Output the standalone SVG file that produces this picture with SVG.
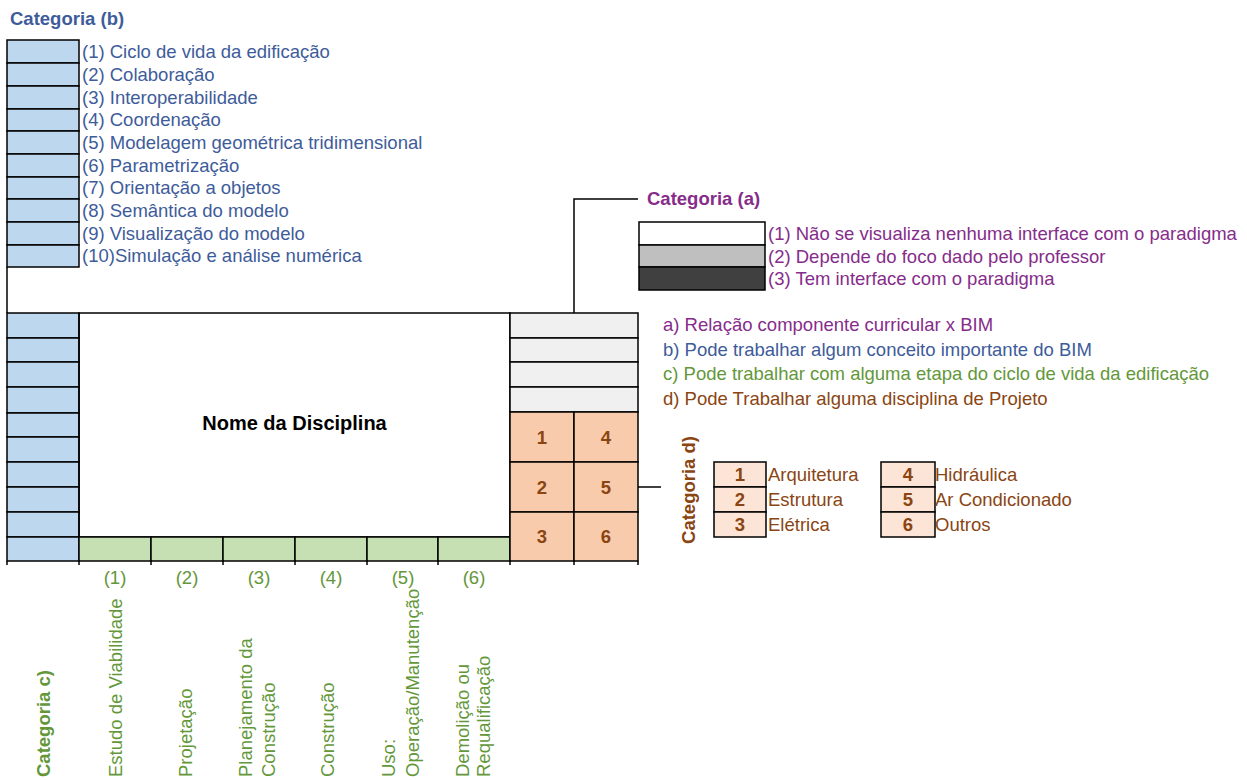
<svg xmlns="http://www.w3.org/2000/svg" width="1247" height="780" viewBox="0 0 1247 780">
<style>
text{font-family:"Liberation Sans",Arial,sans-serif;font-size:18.5px}
.b{font-weight:bold}
.ln{stroke:#000;stroke-width:1.5;fill:none}
.cb{fill:#BDD7EE;stroke:#000;stroke-width:1.5}
.cg{fill:#C6E0B4;stroke:#000;stroke-width:1.5}
.co{fill:#F8CBAD;stroke:#000;stroke-width:1.5}
.cl{fill:#FCE4D6;stroke:#000;stroke-width:1.5}
.cy{fill:#F0F0F0;stroke:#000;stroke-width:1.5}
.tb{fill:#3E5C9A}
.tg{fill:#63973A}
.to{fill:#8A4513}
.tp{fill:#862C8A}
.mid{text-anchor:middle}
</style>
<rect width="1247" height="780" fill="#fff"/>

<g id="categoria-b-legend">
<text x="10" y="25" class="b tb">Categoria (b)</text>
<rect x="7" y="40" width="72" height="23" class="cb"/>
<rect x="7" y="63" width="72" height="23" class="cb"/>
<rect x="7" y="86" width="72" height="23" class="cb"/>
<rect x="7" y="109" width="72" height="22" class="cb"/>
<rect x="7" y="131" width="72" height="23" class="cb"/>
<rect x="7" y="154" width="72" height="23" class="cb"/>
<rect x="7" y="177" width="72" height="22" class="cb"/>
<rect x="7" y="199" width="72" height="23" class="cb"/>
<rect x="7" y="222" width="72" height="23" class="cb"/>
<rect x="7" y="245" width="72" height="22" class="cb"/>
<text x="82" y="58" class="tb">(1) Ciclo de vida da edificação</text>
<text x="82" y="81" class="tb">(2) Colaboração</text>
<text x="82" y="104" class="tb">(3) Interoperabilidade</text>
<text x="82" y="126" class="tb">(4) Coordenação</text>
<text x="82" y="149" class="tb">(5) Modelagem geométrica tridimensional</text>
<text x="82" y="172" class="tb">(6) Parametrização</text>
<text x="82" y="194" class="tb">(7) Orientação a objetos</text>
<text x="82" y="217" class="tb">(8) Semântica do modelo</text>
<text x="82" y="240" class="tb">(9) Visualização do modelo</text>
<text x="82" y="262" class="tb">(10)Simulação e análise numérica</text>
</g>

<g id="connectors">
<line x1="7" y1="267" x2="7" y2="313" class="ln"/>
<polyline points="574,313 574,199 638,199" class="ln"/>
<line x1="638" y1="487" x2="661" y2="487" class="ln"/>
</g>

<g id="blue-column">
<rect x="7" y="313" width="72" height="25" class="cb"/>
<rect x="7" y="338" width="72" height="24" class="cb"/>
<rect x="7" y="362" width="72" height="25" class="cb"/>
<rect x="7" y="387" width="72" height="26" class="cb"/>
<rect x="7" y="413" width="72" height="24" class="cb"/>
<rect x="7" y="437" width="72" height="25" class="cb"/>
<rect x="7" y="462" width="72" height="25" class="cb"/>
<rect x="7" y="487" width="72" height="25" class="cb"/>
<rect x="7" y="512" width="72" height="25" class="cb"/>
<rect x="7" y="537" width="72" height="24" class="cb"/>
</g>

<g id="nome-da-disciplina">
<rect x="79" y="313" width="431" height="224" fill="#fff" class="ln"/>
<text x="294.5" y="430" class="b mid" style="font-size:20px" fill="#000">Nome da Disciplina</text>
</g>

<g id="green-row">
<rect x="79" y="537" width="72" height="24" class="cg"/>
<rect x="151" y="537" width="72" height="24" class="cg"/>
<rect x="223" y="537" width="72" height="24" class="cg"/>
<rect x="295" y="537" width="72" height="24" class="cg"/>
<rect x="367" y="537" width="71" height="24" class="cg"/>
<rect x="438" y="537" width="72" height="24" class="cg"/>
<line x1="79" y1="561" x2="79" y2="565" class="ln"/>
<line x1="151" y1="561" x2="151" y2="565" class="ln"/>
<line x1="223" y1="561" x2="223" y2="565" class="ln"/>
<line x1="295" y1="561" x2="295" y2="565" class="ln"/>
<line x1="367" y1="561" x2="367" y2="565" class="ln"/>
<line x1="438" y1="561" x2="438" y2="565" class="ln"/>
<line x1="510" y1="561" x2="510" y2="565" class="ln"/>
<line x1="574" y1="561" x2="574" y2="565" class="ln"/>
<line x1="638" y1="561" x2="638" y2="565" class="ln"/>
<line x1="7" y1="561" x2="7" y2="565" class="ln"/>
</g>

<g id="gray-column">
<rect x="510" y="313" width="128" height="25" class="cy"/>
<rect x="510" y="338" width="128" height="24" class="cy"/>
<rect x="510" y="362" width="128" height="25" class="cy"/>
<rect x="510" y="387" width="128" height="25" class="cy"/>
</g>

<g id="orange-grid">
<rect x="510" y="412" width="64" height="50" class="co"/>
<rect x="574" y="412" width="64" height="50" class="co"/>
<rect x="510" y="462" width="64" height="50" class="co"/>
<rect x="574" y="462" width="64" height="50" class="co"/>
<rect x="510" y="512" width="64" height="49" class="co"/>
<rect x="574" y="512" width="64" height="49" class="co"/>
<text x="542" y="444" class="b to mid">1</text>
<text x="606" y="444" class="b to mid">4</text>
<text x="542" y="494" class="b to mid">2</text>
<text x="606" y="494" class="b to mid">5</text>
<text x="542" y="543" class="b to mid">3</text>
<text x="606" y="543" class="b to mid">6</text>
</g>

<g id="categoria-a-legend">
<text x="647" y="205" class="b tp">Categoria (a)</text>
<rect x="639" y="222" width="126" height="23" fill="#fff" class="ln"/>
<rect x="639" y="245" width="126" height="22" fill="#BFBFBF" stroke="#000" stroke-width="1.5"/>
<rect x="639" y="267" width="126" height="23" fill="#404040" stroke="#000" stroke-width="1.5"/>
<text x="768" y="240" class="tp">(1) Não se visualiza nenhuma interface com o paradigma</text>
<text x="768" y="263" class="tp">(2) Depende do foco dado pelo professor</text>
<text x="768" y="285" class="tp">(3) Tem interface com o paradigma</text>
</g>

<g id="key">
<text x="663" y="331" class="tp">a) Relação componente curricular x BIM</text>
<text x="663" y="356" class="tb">b) Pode trabalhar algum conceito importante do BIM</text>
<text x="663" y="380" class="tg">c) Pode trabalhar com alguma etapa do ciclo de vida da edificação</text>
<text x="663" y="405" class="to">d) Pode Trabalhar alguma disciplina de Projeto</text>
</g>

<g id="categoria-d-legend">
<text transform="translate(695,490) rotate(-90)" class="b to mid">Categoria d)</text>
<rect x="714" y="462" width="52" height="25" class="cl"/>
<rect x="714" y="487" width="52" height="25" class="cl"/>
<rect x="714" y="512" width="52" height="25" class="cl"/>
<rect x="881" y="462" width="54" height="25" class="cl"/>
<rect x="881" y="487" width="54" height="25" class="cl"/>
<rect x="881" y="512" width="54" height="25" class="cl"/>
<text x="740" y="481" class="b to mid">1</text>
<text x="740" y="506" class="b to mid">2</text>
<text x="740" y="531" class="b to mid">3</text>
<text x="908" y="481" class="b to mid">4</text>
<text x="908" y="506" class="b to mid">5</text>
<text x="908" y="531" class="b to mid">6</text>
<text x="768" y="481" class="to">Arquitetura</text>
<text x="768" y="506" class="to">Estrutura</text>
<text x="768" y="531" class="to">Elétrica</text>
<text x="935" y="481" class="to">Hidráulica</text>
<text x="935" y="506" class="to">Ar Condicionado</text>
<text x="935" y="531" class="to">Outros</text>
</g>

<g id="categoria-c-labels">
<text x="115" y="584" class="tg mid">(1)</text>
<text x="187" y="584" class="tg mid">(2)</text>
<text x="259" y="584" class="tg mid">(3)</text>
<text x="331" y="584" class="tg mid">(4)</text>
<text x="403" y="584" class="tg mid">(5)</text>
<text x="474" y="584" class="tg mid">(6)</text>
<text transform="translate(50,777) rotate(-90)" class="b tg">Categoria c)</text>
<text transform="translate(122,777) rotate(-90)" class="tg">Estudo de Viabilidade</text>
<text transform="translate(192,777) rotate(-90)" class="tg">Projetação</text>
<text transform="translate(252,777) rotate(-90)" class="tg">Planejamento da</text>
<text transform="translate(275,777) rotate(-90)" class="tg">Construção</text>
<text transform="translate(334,777) rotate(-90)" class="tg">Construção</text>
<text transform="translate(395,777) rotate(-90)" class="tg">Uso:</text>
<text transform="translate(419,777) rotate(-90)" class="tg">Operação/Manutenção</text>
<text transform="translate(469,777) rotate(-90)" class="tg">Demolição ou</text>
<text transform="translate(490,777) rotate(-90)" class="tg">Requalificação</text>
</g>
</svg>
